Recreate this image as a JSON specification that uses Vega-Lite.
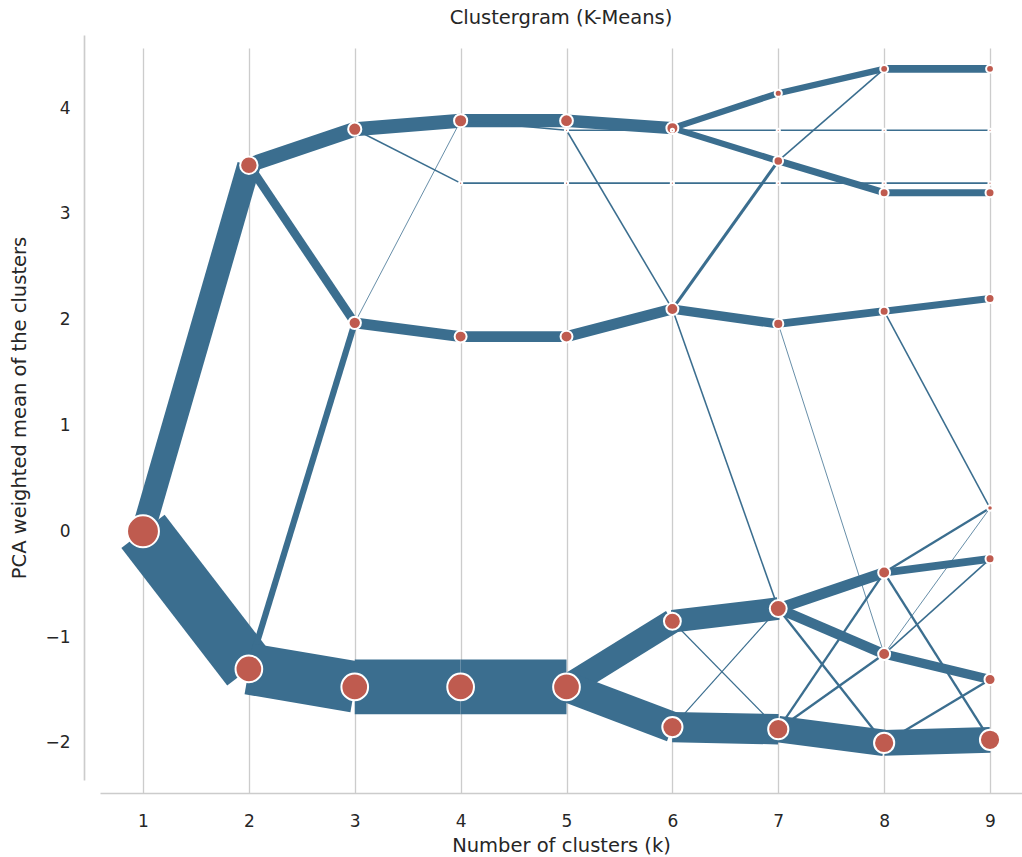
{
  "$schema": "https://vega.github.io/schema/vega-lite/v6.json",
  "width": 922,
  "height": 745,
  "autosize": {"type": "none"},
  "padding": {"left": 100, "top": 35, "right": 0, "bottom": 77},
  "background": "white",
  "config": {
    "view": {"stroke": null},
    "font": "DejaVu Sans",
    "axisX": {
      "grid": true, "gridColor": "#cccccc", "gridWidth": 1.33, "ticks": false,
      "domainColor": "#cccccc", "domainWidth": 1.67, "offset": 13,
      "labelFontSize": 17, "labelColor": "#262626", "labelPadding": 20, "labelFont": "DejaVu Sans",
      "titleFontSize": 19.5, "titleFontWeight": "normal", "titleColor": "#262626", "titlePadding": 7, "titleFont": "DejaVu Sans"
    },
    "axisY": {
      "grid": false, "ticks": false,
      "domainColor": "#cccccc", "domainWidth": 1.67, "offset": 16,
      "labelFontSize": 17, "labelColor": "#262626", "labelPadding": 14, "labelFont": "DejaVu Sans",
      "titleFontSize": 19.5, "titleFontWeight": "normal", "titleColor": "#262626", "titlePadding": 15, "titleFont": "DejaVu Sans"
    }
  },
  "title": {"text": "Clustergram (K-Means)", "fontSize": 19.5, "fontWeight": "normal", "color": "#262626", "frame": "group", "anchor": "middle", "offset": 7, "font": "DejaVu Sans"},
  "datasets": {
    "edges": [
      {"k": 1, "y": 0.00, "k2": 2, "y2": 3.46, "n": 30},
      {"k": 1, "y": 0.00, "k2": 2, "y2": -1.30, "n": 70},
      {"k": 2, "y": 3.46, "k2": 3, "y2": 3.80, "n": 19},
      {"k": 2, "y": 3.46, "k2": 3, "y2": 1.97, "n": 11},
      {"k": 2, "y": -1.30, "k2": 3, "y2": 1.97, "n": 8},
      {"k": 2, "y": -1.30, "k2": 3, "y2": -1.47, "n": 66},
      {"k": 3, "y": 3.80, "k2": 4, "y2": 3.88, "n": 18},
      {"k": 3, "y": 3.80, "k2": 4, "y2": 3.29, "n": 2},
      {"k": 3, "y": 1.97, "k2": 4, "y2": 3.88, "n": 1},
      {"k": 3, "y": 1.97, "k2": 4, "y2": 1.84, "n": 14},
      {"k": 3, "y": -1.47, "k2": 4, "y2": -1.47, "n": 70},
      {"k": 4, "y": 3.88, "k2": 5, "y2": 3.88, "n": 17},
      {"k": 4, "y": 3.88, "k2": 5, "y2": 3.79, "n": 2},
      {"k": 4, "y": 3.29, "k2": 5, "y2": 3.29, "n": 2},
      {"k": 4, "y": 1.84, "k2": 5, "y2": 1.84, "n": 14},
      {"k": 4, "y": -1.47, "k2": 5, "y2": -1.47, "n": 70},
      {"k": 5, "y": 3.88, "k2": 6, "y2": 3.81, "n": 16},
      {"k": 5, "y": 3.79, "k2": 6, "y2": 3.79, "n": 2},
      {"k": 5, "y": 3.79, "k2": 6, "y2": 2.10, "n": 2},
      {"k": 5, "y": 3.29, "k2": 6, "y2": 3.29, "n": 2},
      {"k": 5, "y": 1.84, "k2": 6, "y2": 2.10, "n": 14},
      {"k": 5, "y": -1.47, "k2": 6, "y2": -0.85, "n": 31},
      {"k": 5, "y": -1.47, "k2": 6, "y2": -1.85, "n": 39},
      {"k": 6, "y": 3.81, "k2": 7, "y2": 4.14, "n": 8},
      {"k": 6, "y": 3.81, "k2": 7, "y2": 3.50, "n": 8},
      {"k": 6, "y": 3.79, "k2": 7, "y2": 3.79, "n": 2},
      {"k": 6, "y": 3.29, "k2": 7, "y2": 3.29, "n": 2},
      {"k": 6, "y": 2.10, "k2": 7, "y2": 3.50, "n": 4},
      {"k": 6, "y": 2.10, "k2": 7, "y2": 1.96, "n": 12},
      {"k": 6, "y": 2.10, "k2": 7, "y2": -0.73, "n": 2},
      {"k": 6, "y": -0.85, "k2": 7, "y2": -0.73, "n": 29},
      {"k": 6, "y": -0.85, "k2": 7, "y2": -1.87, "n": 1.5},
      {"k": 6, "y": -1.85, "k2": 7, "y2": -0.73, "n": 1.5},
      {"k": 6, "y": -1.85, "k2": 7, "y2": -1.87, "n": 39},
      {"k": 7, "y": 4.14, "k2": 8, "y2": 4.37, "n": 8},
      {"k": 7, "y": 3.50, "k2": 8, "y2": 4.37, "n": 2},
      {"k": 7, "y": 3.50, "k2": 8, "y2": 3.20, "n": 9},
      {"k": 7, "y": 3.79, "k2": 8, "y2": 3.79, "n": 2},
      {"k": 7, "y": 3.29, "k2": 8, "y2": 3.29, "n": 2},
      {"k": 7, "y": 1.96, "k2": 8, "y2": 2.08, "n": 10},
      {"k": 7, "y": 1.96, "k2": 8, "y2": -1.16, "n": 1},
      {"k": 7, "y": -0.73, "k2": 8, "y2": -0.39, "n": 14},
      {"k": 7, "y": -0.73, "k2": 8, "y2": -1.16, "n": 13},
      {"k": 7, "y": -0.73, "k2": 8, "y2": -2.00, "n": 3},
      {"k": 7, "y": -1.87, "k2": 8, "y2": -0.39, "n": 3},
      {"k": 7, "y": -1.87, "k2": 8, "y2": -1.16, "n": 3},
      {"k": 7, "y": -1.87, "k2": 8, "y2": -2.00, "n": 34},
      {"k": 8, "y": 4.37, "k2": 9, "y2": 4.37, "n": 10},
      {"k": 8, "y": 3.79, "k2": 9, "y2": 3.79, "n": 2},
      {"k": 8, "y": 3.29, "k2": 9, "y2": 3.29, "n": 2},
      {"k": 8, "y": 3.20, "k2": 9, "y2": 3.20, "n": 9},
      {"k": 8, "y": 2.08, "k2": 9, "y2": 2.20, "n": 9},
      {"k": 8, "y": 2.08, "k2": 9, "y2": 0.22, "n": 2},
      {"k": 8, "y": -0.39, "k2": 9, "y2": 0.22, "n": 3},
      {"k": 8, "y": -0.39, "k2": 9, "y2": -0.26, "n": 10},
      {"k": 8, "y": -0.39, "k2": 9, "y2": -1.97, "n": 3},
      {"k": 8, "y": -1.16, "k2": 9, "y2": 0.22, "n": 1},
      {"k": 8, "y": -1.16, "k2": 9, "y2": -0.26, "n": 2},
      {"k": 8, "y": -1.16, "k2": 9, "y2": -1.40, "n": 12},
      {"k": 8, "y": -2.00, "k2": 9, "y2": -1.40, "n": 3},
      {"k": 8, "y": -2.00, "k2": 9, "y2": -1.97, "n": 33}
    ],
    "nodes": [
      {"k": 1, "y": 0.00, "n": 100},
      {"k": 2, "y": 3.46, "n": 30},
      {"k": 2, "y": -1.30, "n": 70},
      {"k": 3, "y": 3.80, "n": 17},
      {"k": 3, "y": 1.97, "n": 15},
      {"k": 3, "y": -1.47, "n": 70},
      {"k": 4, "y": 3.88, "n": 17},
      {"k": 4, "y": 3.29, "n": 1},
      {"k": 4, "y": 1.84, "n": 14},
      {"k": 4, "y": -1.47, "n": 70},
      {"k": 5, "y": 3.88, "n": 16},
      {"k": 5, "y": 3.79, "n": 1},
      {"k": 5, "y": 3.29, "n": 1},
      {"k": 5, "y": 1.84, "n": 14},
      {"k": 5, "y": -1.47, "n": 70},
      {"k": 6, "y": 3.81, "n": 14},
      {"k": 6, "y": 3.79, "n": 1},
      {"k": 6, "y": 3.29, "n": 1},
      {"k": 6, "y": 2.10, "n": 14},
      {"k": 6, "y": -0.85, "n": 28},
      {"k": 6, "y": -1.85, "n": 40},
      {"k": 7, "y": 4.14, "n": 5},
      {"k": 7, "y": 3.79, "n": 1},
      {"k": 7, "y": 3.50, "n": 9},
      {"k": 7, "y": 3.29, "n": 1},
      {"k": 7, "y": 1.96, "n": 10},
      {"k": 7, "y": -0.73, "n": 28},
      {"k": 7, "y": -1.87, "n": 40},
      {"k": 8, "y": 4.37, "n": 6},
      {"k": 8, "y": 3.79, "n": 1},
      {"k": 8, "y": 3.29, "n": 1},
      {"k": 8, "y": 3.20, "n": 8},
      {"k": 8, "y": 2.08, "n": 8},
      {"k": 8, "y": -0.39, "n": 14},
      {"k": 8, "y": -1.16, "n": 14},
      {"k": 8, "y": -2.00, "n": 40},
      {"k": 9, "y": 4.37, "n": 6},
      {"k": 9, "y": 3.79, "n": 1},
      {"k": 9, "y": 3.29, "n": 1},
      {"k": 9, "y": 3.20, "n": 8},
      {"k": 9, "y": 2.20, "n": 8},
      {"k": 9, "y": 0.22, "n": 3},
      {"k": 9, "y": -0.26, "n": 8},
      {"k": 9, "y": -1.40, "n": 12},
      {"k": 9, "y": -1.97, "n": 40}
    ]
  },
  "layer": [
    {
      "data": {"name": "edges"},
      "mark": {"type": "rule", "color": "#3b6e8f", "strokeCap": "butt", "opacity": 1},
      "encoding": {
        "x": {"field": "k", "type": "quantitative", "title": "Number of clusters (k)",
              "scale": {"domain": [0.594, 9.302], "nice": false, "zero": false},
              "axis": {"values": [1, 2, 3, 4, 5, 6, 7, 8, 9]}},
        "y": {"field": "y", "type": "quantitative", "title": "PCA weighted mean of the clusters",
              "scale": {"domain": [-2.35, 4.69], "nice": false, "zero": false},
              "axis": {"values": [-2, -1, 0, 1, 2, 3, 4]}},
        "x2": {"field": "k2"},
        "y2": {"field": "y2"},
        "strokeWidth": {"field": "n", "type": "quantitative", "scale": {"domain": [0, 100], "range": [0, 78]}, "legend": null}
      }
    },
    {
      "data": {"name": "nodes"},
      "mark": {"type": "circle", "fill": "#bf5b4f", "stroke": "white", "strokeWidth": 2, "opacity": 1, "fillOpacity": 1},
      "encoding": {
        "x": {"field": "k", "type": "quantitative", "title": "Number of clusters (k)",
              "axis": {"values": [1, 2, 3, 4, 5, 6, 7, 8, 9]}},
        "y": {"field": "y", "type": "quantitative", "title": "PCA weighted mean of the clusters",
              "axis": {"values": [-2, -1, 0, 1, 2, 3, 4]}},
        "size": {"field": "n", "type": "quantitative", "scale": {"domain": [0, 100], "range": [0, 1018]}, "legend": null}
      }
    }
  ]
}
